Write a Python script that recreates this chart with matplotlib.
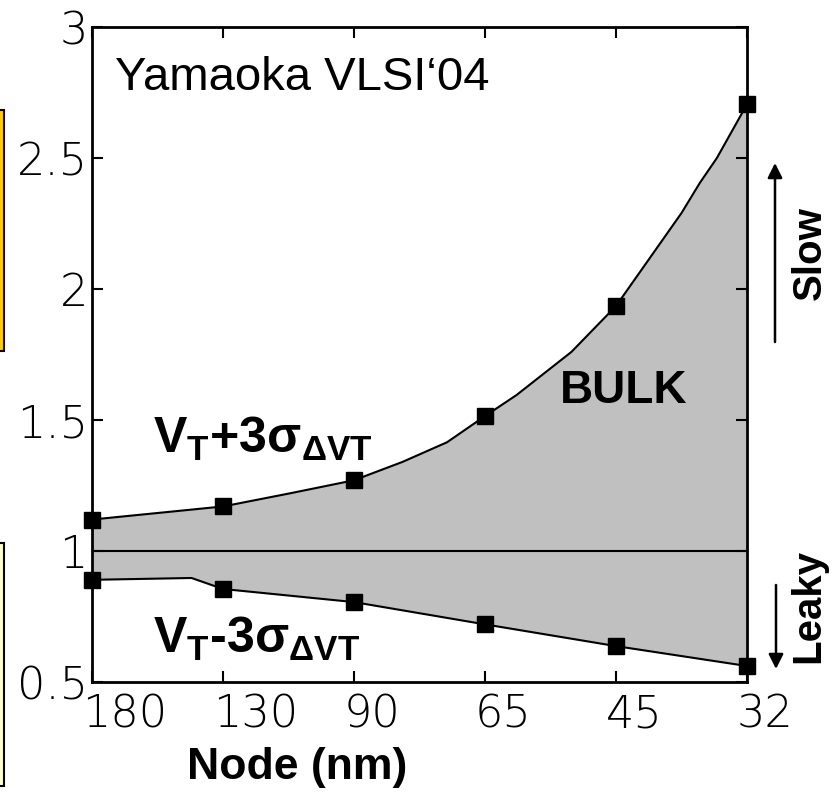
import numpy as np
import matplotlib.pyplot as plt
from matplotlib.patches import Rectangle
from matplotlib.transforms import ScaledTranslation

plt.rcParams['mathtext.fontset'] = 'custom'
plt.rcParams['mathtext.bf'] = 'Liberation Sans:bold'
plt.rcParams['mathtext.rm'] = 'Liberation Sans:bold'

# Technology nodes (category positions 0..5 on the x axis)
nodes = ['180', '130', '90', '65', '45', '32']
node_pos = np.arange(len(nodes))

# VT + 3 sigma: measured nodes
upper_val = [1.12, 1.17, 1.27, 1.515, 1.935, 2.705]
# upper curve including the extra trace vertices between nodes
upper_x = [0, 1, 1.51, 2, 2.37, 2.71, 3, 3.24, 3.66, 4, 4.50, 4.64, 4.77, 5]
upper_y = [1.12, 1.17, 1.22, 1.27, 1.34, 1.415, 1.515, 1.595, 1.76, 1.935,
           2.29, 2.405, 2.50, 2.705]

# VT - 3 sigma
lower_val = [0.89, 0.855, 0.805, 0.72, 0.637, 0.561]
lower_x = [0, 0.76, 1, 2, 3, 4, 5]
lower_y = [0.89, 0.897, 0.855, 0.805, 0.72, 0.637, 0.561]

nominal = 1.0

fig = plt.figure(figsize=(8.35, 7.93), dpi=100)
ax = fig.add_axes([92/835, 1 - 682/793, 655/835, 655/793])

# shaded spread between the two curves
poly_x = upper_x + lower_x[::-1]
poly_y = upper_y + lower_y[::-1]
ax.fill(poly_x, poly_y, color='#c0c0c0', lw=0, zorder=1)

ax.plot(upper_x, upper_y, color='k', lw=1.5, zorder=3)
ax.plot(lower_x, lower_y, color='k', lw=1.5, zorder=3)
ax.plot([node_pos[0], node_pos[-1]], [nominal, nominal], color='k', lw=1.5, zorder=3)
ax.plot(node_pos, upper_val, 's', color='k', ms=11, clip_on=False, zorder=4)
ax.plot(node_pos, lower_val, 's', color='k', ms=11, clip_on=False, zorder=4)

ax.set_xlim(0, 5)
ax.set_ylim(0.5, 3)
ax.set_xticks(node_pos)
ax.set_xticklabels(nodes)
ax.set_yticks([0.5, 1, 1.5, 2, 2.5, 3])
ax.set_yticklabels(['0.5', '1', '1.5', '2', '2.5', '3'])

for sp in ax.spines.values():
    sp.set_linewidth(2)
ax.tick_params(direction='in', length=8, width=1.5, top=True, right=True)
ax.tick_params(axis='x', pad=8)
ax.tick_params(axis='y', pad=3)

tick_font = dict(family='DejaVu Sans', weight='light', size=32)
shift = ScaledTranslation(-10/100, 0, fig.dpi_scale_trans)
for lab in ax.get_xticklabels():
    lab.set_horizontalalignment('left')
    lab.set_transform(lab.get_transform() + shift)
    lab.set_fontproperties(tick_font)
for lab in ax.get_yticklabels():
    lab.set_fontproperties(tick_font)

fig.text(297/835, 1 - 768/793, 'Node (nm)', family='Liberation Sans',
         weight='bold', fontsize=32, ha='center', va='center')

ax.text(0.035, 0.955, 'Yamaoka VLSI\u201804', transform=ax.transAxes,
        family='Liberation Sans', fontsize=34, ha='left', va='top')
ax.text(0.466, 1.374, r'$\mathbf{V_T}\text{+}\mathbf{3\sigma_{\Delta VT}}$',
        fontsize=36, ha='left', va='baseline')
ax.text(0.466, 0.611, r'$\mathbf{V_T}\text{-}\mathbf{3\sigma_{\Delta VT}}$',
        fontsize=36, ha='left', va='baseline')
ax.text(4.06, 1.565, 'BULK', family='Liberation Sans', weight='bold',
        fontsize=33, ha='center', va='baseline')

# speed / leakage direction arrows on the right
fig.text(810/835, 1 - 253/793, 'Slow', family='Liberation Sans', weight='bold',
         fontsize=29, rotation=90, ha='center', va='center')
fig.text(808/835, 1 - 606/793, 'Leaky', family='Liberation Sans', weight='bold',
         fontsize=29, rotation=90, ha='center', va='center')
arrow_style = dict(arrowstyle='-|>', color='k', lw=1.8, mutation_scale=22,
                   shrinkA=0, shrinkB=0)
ax.annotate('', xy=(775/835, 1 - 163/793), xytext=(775/835, 1 - 342/793),
            xycoords='figure fraction', textcoords='figure fraction',
            arrowprops=arrow_style, annotation_clip=False)
ax.annotate('', xy=(776/835, 1 - 669/793), xytext=(776/835, 1 - 585/793),
            xycoords='figure fraction', textcoords='figure fraction',
            arrowprops=arrow_style, annotation_clip=False)

# cut-off side boxes at the left edge
fig.patches.append(Rectangle((-0.02, 1 - 351/793), 0.02 + 4/835, 241/793,
                             transform=fig.transFigure, facecolor='#ffcc00',
                             edgecolor='k', lw=1.5))
fig.patches.append(Rectangle((-0.02, 1 - 786/793), 0.02 + 4/835, 243/793,
                             transform=fig.transFigure, facecolor='#ffffcc',
                             edgecolor='k', lw=1.5))

fig.savefig('out.png', dpi=100)
